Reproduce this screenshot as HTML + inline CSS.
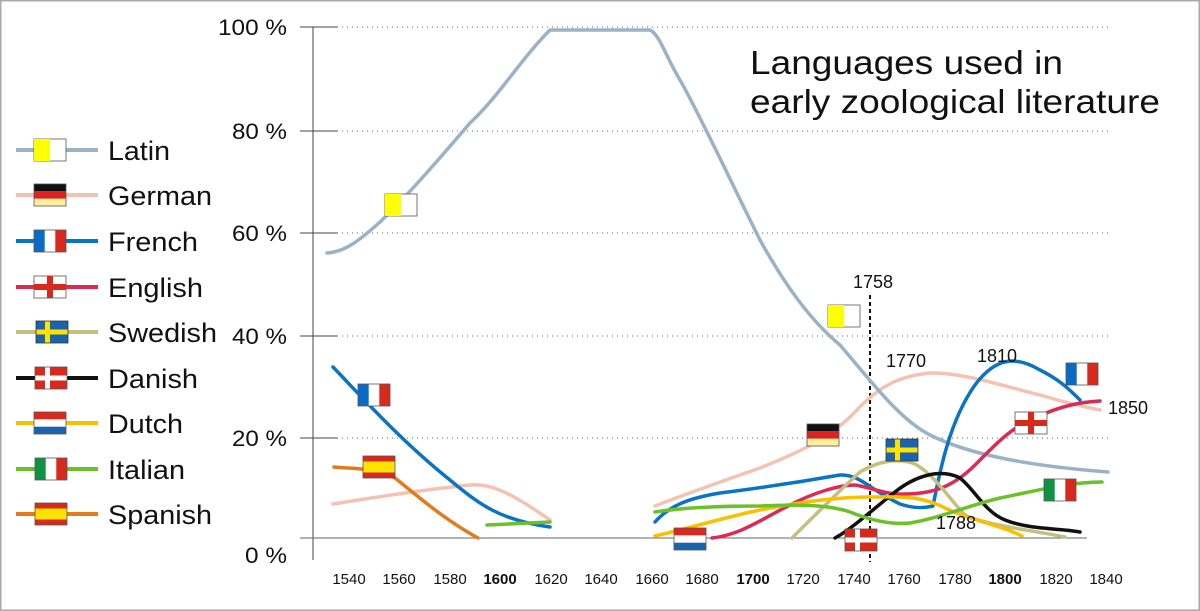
<!DOCTYPE html>
<html><head><meta charset="utf-8"><style>
body{margin:0;background:#fff}
svg{display:block;font-family:"Liberation Sans",Arial,sans-serif}
</style></head><body>
<svg width="1200" height="611" viewBox="0 0 1200 611" xmlns="http://www.w3.org/2000/svg">
<rect x="0.5" y="0.5" width="1199" height="610" fill="#fff" stroke="#aaa" stroke-width="2"/>
<defs>
<g id="latin"><rect width="32" height="22" fill="#fff" stroke="#555" stroke-width="0.8"/><rect width="16" height="22" fill="#ff0"/></g>
<g id="german"><rect width="32" height="22" fill="#fdf09a"/><rect width="32" height="7.3" fill="#111"/><rect y="7.3" width="32" height="7.3" fill="#d22"/><rect width="32" height="22" fill="none" stroke="#555" stroke-width="0.8"/></g>
<g id="french"><rect width="32" height="22" fill="#fff"/><rect width="10.7" height="22" fill="#0a6bc4"/><rect x="21.3" width="10.7" height="22" fill="#d8291c"/><rect width="32" height="22" fill="none" stroke="#555" stroke-width="0.8"/></g>
<g id="english"><rect width="32" height="22" fill="#fff" stroke="#555" stroke-width="0.8"/><rect x="13" width="6" height="22" fill="#d8291c"/><rect y="8" width="32" height="6" fill="#d8291c"/></g>
<g id="swedish"><rect width="32" height="22" fill="#1a63b0"/><rect x="9" width="5" height="22" fill="#ffe200"/><rect y="8.5" width="32" height="5" fill="#ffe200"/><rect width="32" height="22" fill="none" stroke="#333" stroke-width="0.8"/></g>
<g id="danish"><rect width="32" height="22" fill="#d8291c"/><rect x="10" width="5" height="22" fill="#fff"/><rect y="8.5" width="32" height="5" fill="#fff"/><rect width="32" height="22" fill="none" stroke="#555" stroke-width="0.8"/></g>
<g id="dutch"><rect width="32" height="22" fill="#fff"/><rect width="32" height="7.3" fill="#d8291c"/><rect y="14.7" width="32" height="7.3" fill="#1a63b0"/><rect width="32" height="22" fill="none" stroke="#555" stroke-width="0.8"/></g>
<g id="italian"><rect width="32" height="22" fill="#fff"/><rect width="10.7" height="22" fill="#119143"/><rect x="21.3" width="10.7" height="22" fill="#d8291c"/><rect width="32" height="22" fill="none" stroke="#555" stroke-width="0.8"/></g>
<g id="spanish"><rect width="32" height="22" fill="#d8291c"/><rect y="5.5" width="32" height="11" fill="#ffe200"/><rect width="32" height="22" fill="none" stroke="#555" stroke-width="0.8"/></g>
</defs>
<g stroke="#666" stroke-width="1" stroke-dasharray="1,4">
<line x1="337" y1="27" x2="1110" y2="27"/><line x1="337" y1="131" x2="1110" y2="131"/><line x1="337" y1="233" x2="1110" y2="233"/><line x1="337" y1="336" x2="1110" y2="336"/><line x1="337" y1="438" x2="1110" y2="438"/>
</g>
<g stroke="#444" stroke-width="1">
<line x1="313" y1="27" x2="313" y2="560"/>
<line x1="300" y1="27" x2="337" y2="27"/><line x1="300" y1="131" x2="337" y2="131"/><line x1="300" y1="233" x2="337" y2="233"/><line x1="300" y1="336" x2="337" y2="336"/><line x1="300" y1="438" x2="337" y2="438"/>
<line x1="300" y1="538" x2="1087" y2="538" stroke="#666"/>
</g>
<g font-size="22" fill="#111">
<text x="218" y="35" textLength="69" lengthAdjust="spacingAndGlyphs">100 %</text>
<text x="232" y="139" textLength="55" lengthAdjust="spacingAndGlyphs">80 %</text>
<text x="232" y="241" textLength="55" lengthAdjust="spacingAndGlyphs">60 %</text>
<text x="232" y="344" textLength="55" lengthAdjust="spacingAndGlyphs">40 %</text>
<text x="232" y="446" textLength="55" lengthAdjust="spacingAndGlyphs">20 %</text>
<text x="245" y="563" textLength="42" lengthAdjust="spacingAndGlyphs">0 %</text>
</g>
<g font-size="15" fill="#111" text-anchor="middle">
<text x="349" y="584">1540</text><text x="399" y="584">1560</text><text x="450" y="584">1580</text><text x="500" y="584" font-weight="bold">1600</text><text x="551" y="584">1620</text><text x="601" y="584">1640</text><text x="652" y="584">1660</text><text x="702" y="584">1680</text><text x="753" y="584" font-weight="bold">1700</text><text x="803" y="584">1720</text><text x="854" y="584">1740</text><text x="904" y="584">1760</text><text x="955" y="584">1780</text><text x="1005" y="584" font-weight="bold">1800</text><text x="1056" y="584">1820</text><text x="1106" y="584">1840</text>
</g>
<line x1="870" y1="295" x2="870" y2="562" stroke="#111" stroke-width="2" stroke-dasharray="4,3"/>
<g fill="none" stroke-width="3.5" stroke-linecap="round" stroke-linejoin="round">
<path stroke="#f4c2b2" d="M333,504 C370,498 420,490 470,485 C490,483 510,492 550,520 M655,506 C680,496 720,482 760,468 C800,452 830,438 855,412 C880,385 900,376 930,373 C960,372 1000,385 1040,395 C1060,401 1085,407 1100,410"/>
<path stroke="#9bb2c6" d="M327,253 C345,252 360,240 380,222 C410,193 440,158 470,123 C500,95 520,60 550,30 L650,30 C660,35 665,55 680,80 C700,115 730,180 760,240 C785,285 810,320 840,345 C870,380 900,420 930,435 C970,455 1030,466 1108,472"/>
<path stroke="#0a74c4" d="M333,367 C360,395 400,440 450,480 C480,505 500,520 550,527 M655,522 C670,505 690,498 720,493 C760,488 800,482 840,475 C860,474 870,490 900,504 C915,509 925,508 933,506 C940,470 950,420 975,385 C995,358 1015,355 1040,370 C1060,380 1070,390 1080,400"/>
<path stroke="#dc2a55" d="M712,538 C740,535 760,520 790,505 C815,492 840,485 855,485 C870,487 885,495 905,494 C935,494 955,485 975,465 C995,445 1010,428 1035,418 C1060,406 1080,402 1100,401"/>
<path stroke="#c3c07f" d="M792,538 C815,515 840,490 860,472 C880,460 900,458 915,464 C935,475 950,500 965,515 C985,525 1030,530 1065,537"/>
<path stroke="#111" d="M835,538 C850,530 870,512 895,492 C915,476 940,468 960,478 C975,490 985,512 1005,520 C1030,530 1060,528 1080,532"/>
<path stroke="#f9c000" d="M655,536 C690,528 730,516 760,510 C800,502 840,497 870,497 C900,497 920,495 945,508 C970,520 1000,525 1022,536"/>
<path stroke="#6cc02a" d="M487,525 L550,522 M655,512 C680,508 720,506 760,506 C800,504 830,505 850,512 C870,520 890,525 910,523 C940,518 970,505 1000,498 C1040,490 1070,482 1102,482"/>
<path stroke="#e57a1a" d="M334,467 C355,469 380,468 395,478 C420,498 445,520 478,538"/>
</g>
<use href="#latin" x="385" y="194"/>
<use href="#french" x="358" y="384"/>
<use href="#spanish" x="363" y="456"/>
<use href="#dutch" x="674" y="528"/>
<use href="#german" x="807" y="424"/>
<use href="#latin" x="828" y="305"/>
<use href="#danish" x="845" y="529"/>
<use href="#swedish" x="886" y="439"/>
<use href="#english" x="1015" y="412"/>
<use href="#italian" x="1044" y="479"/>
<use href="#french" x="1066" y="363"/>
<g font-size="18" fill="#111">
<text x="853" y="288">1758</text><text x="886" y="367">1770</text><text x="977" y="362">1810</text><text x="1108" y="414">1850</text><text x="936" y="529">1788</text>
</g>
<g font-size="33" fill="#111">
<text x="750" y="74" textLength="313" lengthAdjust="spacingAndGlyphs">Languages used in</text>
<text x="750" y="113" textLength="410" lengthAdjust="spacingAndGlyphs">early zoological literature</text>
</g>
<g stroke-width="4">
<line x1="16" y1="150" x2="98" y2="150" stroke="#9bb2c6"/>
<line x1="16" y1="195" x2="98" y2="195" stroke="#f4c2b2"/>
<line x1="16" y1="241" x2="98" y2="241" stroke="#0a74c4"/>
<line x1="16" y1="287" x2="98" y2="287" stroke="#dc2a55"/>
<line x1="16" y1="332" x2="98" y2="332" stroke="#c3c07f"/>
<line x1="16" y1="378" x2="98" y2="378" stroke="#111"/>
<line x1="16" y1="423" x2="98" y2="423" stroke="#f9c000"/>
<line x1="16" y1="469" x2="98" y2="469" stroke="#6cc02a"/>
<line x1="16" y1="514" x2="98" y2="514" stroke="#e57a1a"/>
</g>
<use href="#latin" x="34" y="139"/>
<use href="#german" x="34" y="184"/>
<use href="#french" x="34" y="230"/>
<use href="#english" x="34" y="276"/>
<use href="#swedish" x="36" y="321"/>
<use href="#danish" x="35" y="367"/>
<use href="#dutch" x="34" y="412"/>
<use href="#italian" x="35" y="458"/>
<use href="#spanish" x="35" y="503"/>
<g font-size="27" fill="#111" lengthAdjust="spacingAndGlyphs">
<text x="108" y="160" textLength="62" lengthAdjust="spacingAndGlyphs">Latin</text>
<text x="108" y="205" textLength="104" lengthAdjust="spacingAndGlyphs">German</text>
<text x="108" y="251" textLength="90" lengthAdjust="spacingAndGlyphs">French</text>
<text x="108" y="297" textLength="95" lengthAdjust="spacingAndGlyphs">English</text>
<text x="108" y="342" textLength="109" lengthAdjust="spacingAndGlyphs">Swedish</text>
<text x="108" y="388" textLength="90" lengthAdjust="spacingAndGlyphs">Danish</text>
<text x="108" y="433" textLength="75" lengthAdjust="spacingAndGlyphs">Dutch</text>
<text x="108" y="479" textLength="77" lengthAdjust="spacingAndGlyphs">Italian</text>
<text x="108" y="524" textLength="104" lengthAdjust="spacingAndGlyphs">Spanish</text>
</g>
</svg>
</body></html>
